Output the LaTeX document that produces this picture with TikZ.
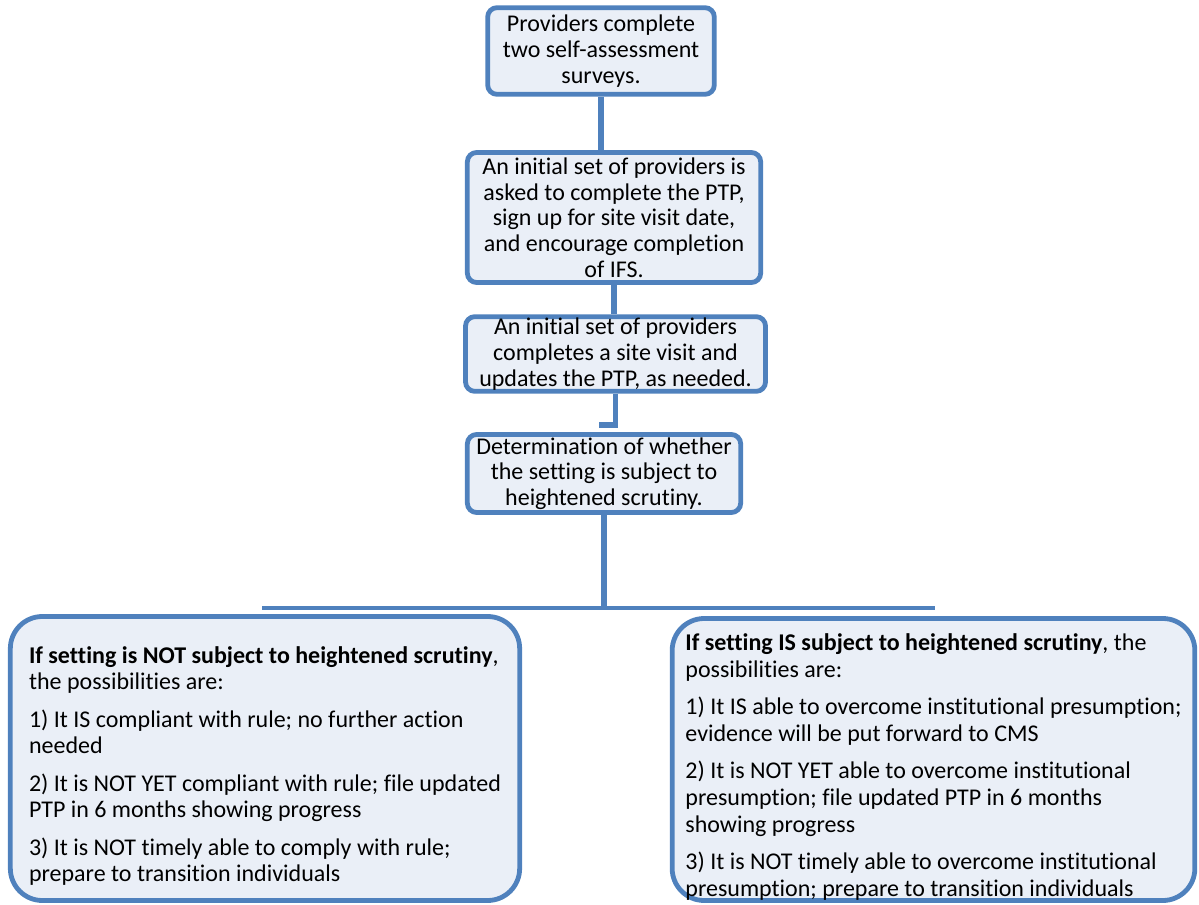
\documentclass[tikz,border=0pt]{standalone}
\usepackage{fontspec}
\setmainfont{Carlito}[Ligatures=NoCommon]

\definecolor{boxblue}{HTML}{4F81BD}
\definecolor{boxfill}{HTML}{EAEFF7}

\begin{document}
\begin{tikzpicture}[x=0.75pt, y=-0.75pt]


\tikzstyle{flow_box} = [draw=boxblue, fill=boxfill, line width=3.6pt, rounded corners=7pt, align=center, inner sep=1pt, font=\fontsize{18}{19.3}\selectfont]

\tikzstyle{choice_box} = [draw=boxblue, fill=boxfill, line width=3.6pt, rounded corners=24pt, align=left, inner xsep=2pt, inner ysep=0pt, font=\fontsize{18}{20}\selectfont]

\tikzstyle{link_style} = [draw=boxblue, line width=3.8pt]

\tikzstyle{bus_style} = [draw=boxblue, line width=2.6pt]


\useasboundingbox (0,0) rectangle (1199,905);

\node[flow_box, minimum width=170pt, minimum height=65pt] (surveys) at (601, 51) {Providers complete\\two self-assessment\\surveys.};
\node[flow_box, minimum width=220pt, minimum height=97.5pt] (ptp) at (614, 217.5) {An initial set of providers is\\asked to complete the PTP,\\sign up for site visit date,\\and encourage completion\\of IFS.};
\node[flow_box, minimum width=225pt, minimum height=55pt] (visit) at (615.5, 354) {An initial set of providers\\completes a site visit and\\updates the PTP, as needed.};
\node[flow_box, minimum width=205pt, minimum height=58.5pt] (scrutiny) at (604, 473.5) {Determination of whether\\the setting is subject to\\heightened scrutiny.};

\node[choice_box, minimum width=382pt, minimum height=213pt] (notsubject) at (265, 758.5) {\rule{0pt}{24pt}\textbf{If setting is NOT subject to heightened scrutiny},\\the possibilities are:\\[8pt]1) It IS compliant with rule; no further action\\needed\\[8pt]2) It is NOT YET compliant with rule; file updated\\PTP in 6 months showing progress\\[8pt]3) It is NOT timely able to comply with rule;\\prepare to transition individuals};
\node[choice_box, minimum width=392pt, minimum height=211.5pt] (subject) at (933.5, 759.5) {\rule{0pt}{24pt}\textbf{If setting IS subject to heightened scrutiny}, the\\possibilities are:\\[8pt]1) It IS able to overcome institutional presumption;\\evidence will be put forward to CMS\\[8pt]2) It is NOT YET able to overcome institutional\\presumption; file updated PTP in 6 months\\showing progress\\[8pt]3) It is NOT timely able to overcome institutional\\presumption; prepare to transition individuals};

\coordinate (elbow) at (599, 425);
\coordinate (bus_left) at (262, 608);
\coordinate (bus_right) at (935, 608);


\draw[link_style]  (surveys.south) -- (surveys.south |- ptp.north);
\draw[link_style]  (ptp.south) -- (ptp.south |- visit.north);
\draw[link_style]  (visit.south) |- (elbow);
\draw[link_style]  (scrutiny.south) -- (scrutiny.south |- bus_left);
\draw[bus_style]  (bus_left) -- (bus_right);


\end{tikzpicture}
\end{document}
